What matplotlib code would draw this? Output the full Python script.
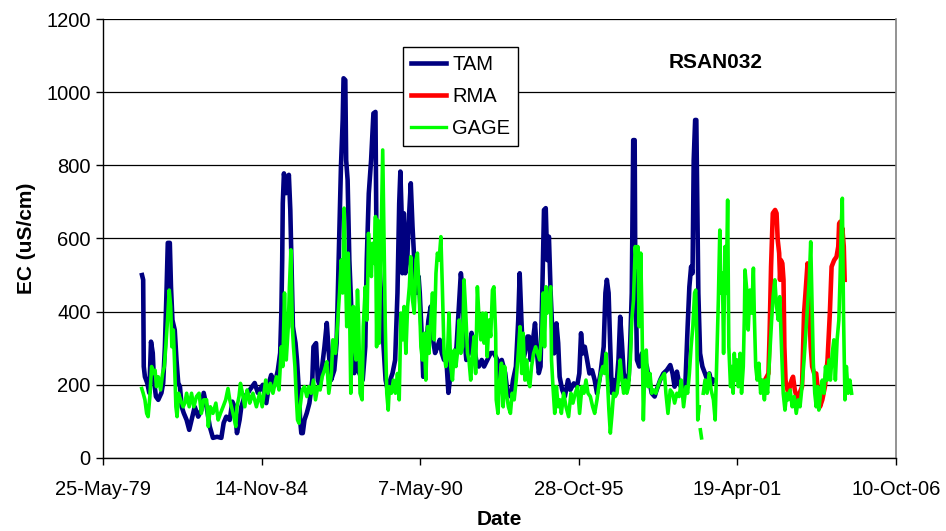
"""EC time series at RSAN032: TAM / RMA model output against gauge record."""

import datetime as dt

import matplotlib
matplotlib.use("Agg")
import matplotlib.pyplot as plt
import matplotlib.dates as mdates
from matplotlib.lines import Line2D
import numpy as np

plt.rcParams["font.family"] = ["Liberation Sans", "DejaVu Sans"]

NAN = float("nan")

STATION = "RSAN032"

# decimal year, EC (uS/cm)
TAM_YEARS = [
    1980.74, 1980.78, 1980.80, 1980.84, 1980.92, 1980.99, 1981.05, 1981.11, 1981.15, 1981.22,
    1981.30, 1981.41, 1981.47, 1981.53, 1981.59, 1981.63, 1981.70, 1981.74, 1981.79, 1981.87,
    1981.93, 1981.99, 1982.05, 1982.11, 1982.18, 1982.28, 1982.37, 1982.45, 1982.56, 1982.68,
    1982.79, 1982.87, 1982.97, 1983.08, 1983.19, 1983.33, 1983.48, 1983.56, 1983.65, 1983.77,
    1983.86, 1983.94, 1984.02, 1984.11, 1984.17, 1984.28, 1984.40, 1984.46, 1984.63, 1984.74,
    1984.91, 1985.03, 1985.15, 1985.20, 1985.32, 1985.43, 1985.51, 1985.55, 1985.58, 1985.60,
    1985.64, 1985.72, 1985.81, 1985.86, 1985.90, 1985.95, 1986.04, 1986.09, 1986.16, 1986.20,
    1986.24, 1986.29, 1986.35, 1986.43, 1986.52, 1986.62, 1986.66, 1986.75, 1986.81, 1986.89,
    1986.96, 1987.04, 1987.12, 1987.19, 1987.27, 1987.38, 1987.46, 1987.53, 1987.58, 1987.61,
    1987.67, 1987.70, 1987.76, 1987.79, 1987.84, 1987.90, 1987.96, 1988.01, 1988.07, 1988.15,
    1988.24, 1988.36, 1988.45, 1988.50, 1988.57, 1988.65, 1988.73, 1988.80, 1988.84, 1988.91,
    1988.99, 1989.05, 1989.15, 1989.22, 1989.31, 1989.39, 1989.48, 1989.56, 1989.62, 1989.66,
    1989.70, 1989.73, 1989.78, 1989.83, 1989.90, 1989.94, 1990.02, 1990.08, 1990.14, 1990.20,
    1990.29, 1990.33, 1990.40, 1990.45, 1990.54, 1990.63, 1990.71, 1990.77, 1990.86, 1990.94,
    1991.02, 1991.09, 1991.17, 1991.25, 1991.32, 1991.37, 1991.44, 1991.52, 1991.60, 1991.67,
    1991.75, 1991.80, 1991.86, 1991.94, 1992.03, 1992.12, 1992.20, 1992.28, 1992.37, 1992.47,
    1992.55, 1992.66, 1992.78, 1992.89, 1993.01, 1993.04, 1993.16, 1993.28, 1993.36, 1993.47,
    1993.55, 1993.65, 1993.73, 1993.78, 1993.84, 1993.90, 1993.96, 1994.05, 1994.10, 1994.16,
    1994.24, 1994.31, 1994.37, 1994.44, 1994.50, 1994.56, 1994.62, 1994.68, 1994.73, 1994.79,
    1994.85, 1994.90, 1994.97, 1995.05, 1995.11, 1995.16, 1995.25, 1995.34, 1995.45, 1995.53,
    1995.65, 1995.76, 1995.84, 1995.90, 1995.96, 1996.03, 1996.11, 1996.19, 1996.28, 1996.37,
    1996.45, 1996.57, 1996.68, 1996.74, 1996.79, 1996.85, 1996.90, 1996.96, 1997.02, 1997.10,
    1997.19, 1997.25, 1997.31, 1997.37, 1997.44, 1997.54, 1997.60, 1997.65, 1997.70, 1997.75,
    1997.77, 1997.83, 1997.91, 1998.00, 1998.09, 1998.17, 1998.25, 1998.34, 1998.44, 1998.51,
    1998.63, 1998.74, 1998.86, 1998.98, 1999.06, 1999.13, 1999.21, 1999.29, 1999.40, 1999.49,
    1999.58, 1999.64, 1999.70, 1999.75, 1999.79, 1999.84, 1999.88, 1999.91, 1999.95, 2000.01,
    2000.09, 2000.18, 2000.26, 2000.33, 2000.41, 2000.48,
]
TAM_EC = [
    500, 487, 250, 222, 205, 178, 318, 287, 213, 168,
    159, 178, 205, 304, 468, 588, 588, 468, 377, 350,
    268, 205, 195, 140, 123, 104, 77, 104, 140, 113,
    131, 178, 140, 86, 55, 58, 55, 96, 113, 104,
    154, 140, 68, 104, 140, 168, 178, 186, 205, 178,
    200, 150, 213, 227, 200, 240, 287, 396, 541, 696,
    778, 724, 774, 678, 541, 359, 314, 268, 178, 104,
    68, 68, 104, 123, 150, 213, 304, 314, 213, 195,
    250, 304, 369, 287, 213, 240, 314, 541, 705, 796,
    924, 1038, 1033, 814, 760, 541, 424, 314, 232, 287,
    232, 213, 304, 541, 723, 814, 942, 946, 541, 578,
    451, 342, 213, 186, 213, 232, 268, 451, 696, 783,
    678, 505, 669, 505, 541, 632, 751, 632, 541, 451,
    496, 451, 332, 222, 295, 377, 414, 332, 287, 304,
    323, 287, 268, 268, 178, 213, 286, 268, 304, 396,
    505, 468, 342, 268, 287, 342, 304, 268, 250, 268,
    250, 268, 287, 287, 268, 213, 268, 232, 178, 168,
    213, 250, 377, 505, 377, 268, 287, 332, 332, 268,
    323, 368, 295, 232, 250, 451, 678, 683, 541, 605,
    451, 359, 286, 368, 314, 222, 186, 168, 213, 186,
    204, 195, 231, 341, 286, 304, 268, 231, 240, 213,
    177, 231, 304, 451, 487, 451, 320, 178, 213, 178,
    268, 386, 314, 232, 213, 213, 323, 451, 869, 869,
    541, 268, 250, 286, 268, 250, 213, 177, 168, 186,
    213, 231, 240, 254, 231, 195, 236, 204, 186, 177,
    359, 468, 523, 505, 814, 924, 924, 723, 451, 286,
    250, 231, 213, 231, 204, 213,
]

RMA_YEARS = [
    2002.25, 2002.37, 2002.41, 2002.46, 2002.52, 2002.60, 2002.65, 2002.69, 2002.74, 2002.77,
    2002.80, 2002.85, 2002.89, 2002.92, 2002.96, 2003.05, 2003.17, 2003.22, 2003.28, 2003.37,
    2003.45, 2003.53, 2003.60, 2003.65, 2003.72, 2003.76, 2003.83, 2003.88, 2003.95, 2004.02,
    2004.09, 2004.15, 2004.23, 2004.32, 2004.41, 2004.49, 2004.55, 2004.64, 2004.72, 2004.78,
    2004.81, 2004.85, 2004.89, 2004.92, 2004.97, 2005.00,
]
RMA_EC = [
    213, 231, 341, 523, 669, 678, 669, 596, 560, 487,
    541, 532, 487, 304, 213, 177, 213, 222, 186, 159,
    178, 195, 396, 451, 532, 441, 304, 250, 231, 231,
    177, 140, 159, 195, 268, 396, 523, 541, 550, 578,
    641, 646, 578, 628, 578, 487,
]

GAGE_YEARS = [
    1980.73, 1980.78, 1980.84, 1980.90, 1980.95, 1981.01, 1981.07, 1981.13, 1981.19, 1981.24,
    1981.30, 1981.38, 1981.45, 1981.51, 1981.56, 1981.62, 1981.68, 1981.73, 1981.77, 1981.82,
    1981.86, 1981.91, 1981.95, 1982.00, 1982.07, 1982.16, 1982.22, 1982.28, 1982.37, 1982.45,
    1982.53, 1982.62, 1982.71, 1982.79, 1982.87, 1982.97, 1983.03, 1983.10, 1983.19, 1983.29,
    1983.37, 1983.45, 1983.54, 1983.63, 1983.71, 1983.77, 1983.83, 1983.91, 1983.98, 1984.02,
    1984.09, 1984.14, 1984.21, 1984.29, 1984.37, 1984.43, 1984.46, 1984.57, 1984.69, 1984.80,
    1984.89, 1985.01, 1985.09, 1985.17, 1985.26, 1985.38, 1985.47, 1985.55, 1985.60, 1985.66,
    1985.72, 1985.79, 1985.83, 1985.88, 1985.93, 1985.97, 1986.02, 1986.06, 1986.11, 1986.16,
    1986.20, 1986.27, 1986.35, 1986.43, 1986.50, 1986.58, 1986.66, 1986.73, 1986.81, 1986.89,
    1986.96, 1987.04, 1987.12, 1987.19, 1987.28, 1987.33, 1987.42, 1987.50, 1987.56, 1987.62,
    1987.67, 1987.72, 1987.76, 1987.81, 1987.86, 1987.90, 1987.95, 1987.99, 1988.04, 1988.08,
    1988.13, 1988.18, 1988.22, 1988.27, 1988.34, 1988.38, 1988.45, 1988.51, 1988.56, 1988.61,
    1988.66, 1988.70, 1988.76, 1988.80, 1988.84, 1988.88, 1988.93, 1988.99, 1989.05, 1989.10,
    1989.14, 1989.19, 1989.24, 1989.28, 1989.35, 1989.42, 1989.49, 1989.56, 1989.62, 1989.68,
    1989.74, 1989.79, 1989.85, 1989.91, 1989.97, 1990.02, 1990.08, 1990.14, 1990.20, 1990.25,
    1990.31, 1990.37, 1990.42, 1990.48, 1990.54, 1990.60, 1990.65, 1990.71, 1990.77, 1990.83,
    1990.89, 1990.94, 1991.00, 1991.06, 1991.11, 1991.17, 1991.23, 1991.29, 1991.34, 1991.40,
    1991.46, 1991.52, 1991.58, 1991.63, 1991.69, 1991.75, 1991.81, 1991.86, 1991.92, 1991.98,
    1992.03, 1992.09, 1992.15, 1992.21, 1992.26, 1992.32, 1992.38, 1992.44, 1992.50, 1992.55,
    1992.61, 1992.66, 1992.72, 1992.78, 1992.84, 1992.89, 1992.95, 1992.97, 1993.03, 1993.09,
    1993.15, 1993.21, 1993.26, 1993.32, 1993.39, 1993.46, 1993.52, 1993.59, 1993.66, 1993.73,
    1993.79, 1993.85, 1993.90, 1993.96, 1994.02, 1994.07, 1994.13, 1994.19, 1994.26, 1994.33,
    1994.40, 1994.47, 1994.54, 1994.59, 1994.64, 1994.69, 1994.73, 1994.79, 1994.85, 1994.88,
    1994.93, 1994.99, 1995.05, 1995.11, 1995.17, 1995.22, 1995.30, 1995.38, 1995.47, 1995.55,
    1995.62, 1995.70, 1995.78, 1995.85, 1995.93, 1996.00, 1996.07, 1996.14, 1996.22, 1996.30,
    1996.37, 1996.45, 1996.51, 1996.58, 1996.65, 1996.71, 1996.76, 1996.81, 1996.86, 1996.91,
    1996.97, 1997.02, 1997.08, 1997.14, 1997.19, 1997.25, 1997.31, 1997.37, 1997.43, 1997.48,
    1997.54, 1997.60, 1997.65, 1997.71, 1997.77, 1997.82, 1997.86, 1997.91, 1997.96, 1998.00,
    1998.05, 1998.09, 1998.15, 1998.21, 1998.28, 1998.34, 1998.41, 1998.48, 1998.55, 1998.63,
    1998.71, 1998.78, 1998.83, 1998.90, 1998.98, 1999.06, 1999.13, 1999.21, 1999.29, 1999.36,
    1999.44, 1999.52, 1999.58, 1999.64, 1999.70, 1999.76, 1999.82, 1999.86, 1999.90, 1999.93,
    1999.98, 2000.00, 2000.02, 2000.06, 2000.09, 2000.12, 2000.18, 2000.25, 2000.32, 2000.39,
    2000.47, 2000.53, 2000.58, 2000.64, 2000.69, 2000.73, 2000.78, 2000.82, 2000.87, 2000.91,
    2000.96, 2001.00, 2001.06, 2001.10, 2001.15, 2001.19, 2001.24, 2001.29, 2001.33, 2001.39,
    2001.44, 2001.50, 2001.54, 2001.56, 2001.62, 2001.67, 2001.73, 2001.79, 2001.85, 2001.88,
    2001.93, 2001.98, 2002.04, 2002.10, 2002.16, 2002.23, 2002.28, 2002.34, 2002.39, 2002.43,
    2002.48, 2002.53, 2002.59, 2002.65, 2002.71, 2002.76, 2002.82, 2002.88, 2002.94, 2003.00,
    2003.05, 2003.12, 2003.19, 2003.26, 2003.33, 2003.40, 2003.46, 2003.53, 2003.60, 2003.66,
    2003.72, 2003.78, 2003.83, 2003.88, 2003.92, 2003.97, 2004.02, 2004.07, 2004.11, 2004.17,
    2004.23, 2004.29, 2004.34, 2004.40, 2004.46, 2004.51, 2004.57, 2004.63, 2004.68, 2004.74,
    2004.80, 2004.84, 2004.89, 2004.92, 2004.96, 2005.01, 2005.06, 2005.12, 2005.18, 2005.24,
]
GAGE_EC = [
    190, 177, 159, 122, 113, 168, 250, 231, 240, 195,
    222, 186, 231, 250, 304, 377, 459, 414, 304, 350,
    268, 140, 113, 177, 159, 140, 150, 177, 140, 177,
    140, 168, 177, 122, 159, 159, 86, 140, 122, 150,
    104, 122, 140, 159, 190, 159, 140, 113, 86, 140,
    168, 204, 177, 140, 186, 168, 150, 177, 140, 177,
    140, 213, 177, 204, 177, 222, 186, 304, 250, 451,
    268, 359, 468, 569, 359, 304, 250, 177, 104, 95,
    140, 186, 195, 168, 195, 177, 213, 159, 195, 186,
    222, 240, 263, 177, 231, 323, 286, 377, 451, 541,
    451, 683, 541, 359, 560, 451, 177, 314, 414, 314,
    268, 459, 377, 177, 159, 359, 468, 377, 614, 541,
    496, 587, 532, 660, 304, 650, 314, 578, 842, 578,
    359, 177, 131, 195, 177, 213, 177, 231, 159, 396,
    323, 414, 286, 414, 468, 550, 432, 396, 541, 560,
    451, 304, 268, 341, 213, 359, 286, 377, 451, 323,
    505, 560, 541, 605, 468, 286, 250, 286, 396, 250,
    213, 295, 250, 286, 377, 286, 304, 487, 396, 286,
    268, 213, 286, 332, 231, 468, 377, 323, 396, 314,
    396, 277, 377, 332, 459, 468, 341, 159, 122, 213,
    259, 140, 250, 177, 140, 122, 177, 159, 213, 286,
    359, 231, 341, 213, 268, 213, 195, 250, 286, 304,
    286, 268, 341, 451, 304, 468, 396, 414, 468, 268,
    195, 122, 195, 140, 159, 122, 177, 140, 113, 177,
    150, 177, 195, 122, 195, 177, 213, 177, 168, 140,
    122, 159, 195, 231, 250, 231, 286, 213, 131, 68,
    122, 177, 168, 177, 213, 268, 213, 177, 213, 177,
    195, 268, 377, 432, 578, 523, 578, 359, 560, 396,
    104, 213, 295, 195, 231, 177, 186, 177, 195, 213,
    222, 231, 177, 122, 186, 177, 150, 177, 168, 213,
    140, 195, 177, 231, 304, 359, 451, 459, 323, 104,
    140, NAN, 77, 55, NAN, 177, 213, 177, 231, 186,
    159, 104, 250, 432, 623, 451, 505, 286, 578, 450,
    705, 304, 195, 250, 177, 286, 213, 268, 195, 286,
    177, 250, 396, 514, 459, 350, 459, 396, 519, 396,
    250, 213, 259, 177, 213, 159, 213, 177, 250, 314,
    377, 441, 487, 414, 377, 441, 304, 177, 131, 177,
    159, 186, 140, 168, 122, 159, 140, 195, 268, 341,
    414, 487, 591, 414, 259, 177, 140, 195, 131, 177,
    213, 177, 250, 213, 268, 213, 286, 323, 213, 323,
    377, 487, 650, 710, 396, 159, 250, 177, 213, 177,
]

TICK_DATES = [
    dt.datetime(1979, 5, 25), dt.datetime(1984, 11, 14), dt.datetime(1990, 5, 7),
    dt.datetime(1995, 10, 28), dt.datetime(2001, 4, 19), dt.datetime(2006, 10, 10),
]

TAM_COLOR = "#000080"
RMA_COLOR = "#ff0000"
GAGE_COLOR = "#00ff00"


def to_dates(years):
    out = []
    for y in years:
        yr = int(y)
        start = dt.datetime(yr, 1, 1)
        span = dt.datetime(yr + 1, 1, 1) - start
        out.append(start + span * (y - yr))
    return out


def fmt_date(x, pos=None):
    d = mdates.num2date(x)
    return f"{d.day}-{d.strftime('%b-%y')}"


fig = plt.figure(figsize=(9.46, 5.31), dpi=100)
ax = fig.add_axes([0.1089, 0.1375, 0.8382, 0.8267])

ax.plot(to_dates(TAM_YEARS), TAM_EC, color=TAM_COLOR, lw=3.3, zorder=3)
ax.plot(to_dates(RMA_YEARS), RMA_EC, color=RMA_COLOR, lw=3.3, zorder=4)
ax.plot(to_dates(GAGE_YEARS), np.array(GAGE_EC, dtype=float),
        color=GAGE_COLOR, lw=2.6, zorder=5)

ax.set_xlim(TICK_DATES[0], TICK_DATES[-1])
ax.set_ylim(0, 1200)
ax.set_xticks(TICK_DATES)
ax.xaxis.set_major_formatter(plt.FuncFormatter(fmt_date))
ax.set_yticks(range(0, 1201, 200))

ax.yaxis.grid(True, color="black", lw=0.9)
ax.set_axisbelow(True)
for side in ("left", "bottom"):
    ax.spines[side].set_color("black")
    ax.spines[side].set_linewidth(1.0)
ax.spines["top"].set_visible(False)
ax.spines["right"].set_color("#808080")
ax.spines["right"].set_linewidth(1.2)

ax.tick_params(axis="both", direction="out", length=5, width=1.0,
               labelsize=14.5, colors="black")
ax.tick_params(axis="x", pad=11)
ax.tick_params(axis="y", pad=4)

ax.set_xlabel("Date", fontsize=15, fontweight="bold", labelpad=8)
ax.set_ylabel("EC (uS/cm)", fontsize=15, fontweight="bold", labelpad=7)

ax.text(0.773, 0.902, STATION, transform=ax.transAxes, ha="center", va="center",
        fontsize=15, fontweight="bold")

handles = [
    Line2D([], [], color=TAM_COLOR, lw=3.3, label="TAM"),
    Line2D([], [], color=RMA_COLOR, lw=3.3, label="RMA"),
    Line2D([], [], color=GAGE_COLOR, lw=2.4, label="GAGE"),
]
leg = ax.legend(handles=handles, loc="upper left", bbox_to_anchor=(0.378, 0.936),
                borderaxespad=0, fontsize=14.5, frameon=True, fancybox=False,
                edgecolor="black", framealpha=1, handlelength=1.75,
                handletextpad=0.3, labelspacing=0.65, borderpad=0.4)
leg.get_frame().set_linewidth(1.0)
leg.set_zorder(10)

fig.savefig("out.png", dpi=100, facecolor="white")
